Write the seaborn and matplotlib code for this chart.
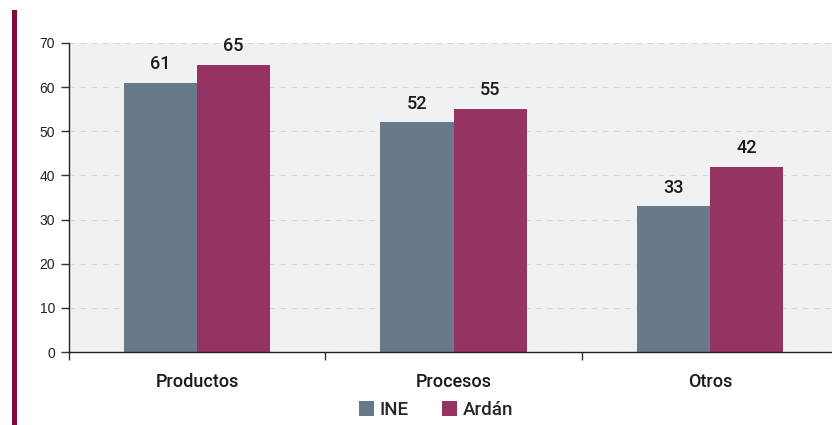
import matplotlib
matplotlib.use("Agg")
import matplotlib.pyplot as plt
from matplotlib.patches import Rectangle, Patch
from matplotlib.ticker import FixedLocator
import seaborn as sns
import pandas as pd

categories = ["Productos", "Procesos", "Otros"]
series_names = ["INE", "Ardán"]
ine_values = [61, 52, 33]
ardan_values = [65, 55, 42]
y_ticks = [0, 10, 20, 30, 40, 50, 60, 70]

colors = {"INE": "#687a89", "Ardán": "#963363"}

df = pd.DataFrame({
    "categoria": categories * 2,
    "serie": [series_names[0]] * len(categories) + [series_names[1]] * len(categories),
    "valor": ine_values + ardan_values,
})

sns.set_theme(style="white")
plt.rcParams["font.family"] = ["Liberation Sans", "DejaVu Sans"]
label_font = ["Roboto", "Liberation Sans", "DejaVu Sans"]

fig = plt.figure(figsize=(8.32, 4.25), dpi=100)
ax = fig.add_axes([69 / 832, 1 - 352 / 425, 769 / 832, 309 / 425])
ax.set_facecolor("#f0f1f3")

sns.barplot(data=df, x="categoria", y="valor", hue="serie", order=categories,
            hue_order=series_names, palette=colors, width=0.57, saturation=1,
            edgecolor="none", linewidth=0, legend=False, ax=ax)

for cont in ax.containers:
    ax.bar_label(cont, fmt="%d", padding=7, fontsize=13, color="#1a1a1a",
                 family=label_font, fontweight="medium")

ax.set_ylim(0, 70)
ax.set_xlim(-0.5, 2.5)
ax.set_yticks(y_ticks)
ax.set_yticklabels([str(v) for v in y_ticks], fontsize=10, color="#222222")
ax.yaxis.grid(True, linestyle=(0, (5, 5)), color="#d4d6da", linewidth=0.8)
ax.set_axisbelow(True)

ax.set_xticks(range(len(categories)))
ax.set_xticklabels(categories, fontsize=13, fontweight="medium", color="#1a1a1a",
                   family=label_font)
ax.xaxis.set_minor_locator(FixedLocator([-0.5, 0.5, 1.5, 2.5]))
ax.tick_params(axis="x", which="major", length=0, pad=15)
ax.tick_params(axis="x", which="minor", length=6, width=1, color="#333333", bottom=True)
ax.tick_params(axis="y", which="major", length=6, width=1, color="#333333", left=True, pad=4)

for s in ["top", "right"]:
    ax.spines[s].set_visible(False)
for s in ["left", "bottom"]:
    ax.spines[s].set_color("#222222")
    ax.spines[s].set_linewidth(1)

ax.set_xlabel("")
ax.set_ylabel("")

handles = [Patch(facecolor=colors[n], edgecolor="none") for n in series_names]
fig.legend(handles, series_names, loc="center", bbox_to_anchor=(436 / 832, 1 - 410 / 425),
           ncol=2, frameon=False, handlelength=0.8, handleheight=0.8,
           handletextpad=0.3, columnspacing=1.8,
           prop={"family": label_font, "weight": "medium", "size": 13.5})

# accent bar along the left margin
fig.add_artist(Rectangle((12 / 832, 0), 5 / 832, 1 - 10 / 425, transform=fig.transFigure,
                         facecolor="#85093f", edgecolor="none"))

fig.savefig("out.png", dpi=100)
